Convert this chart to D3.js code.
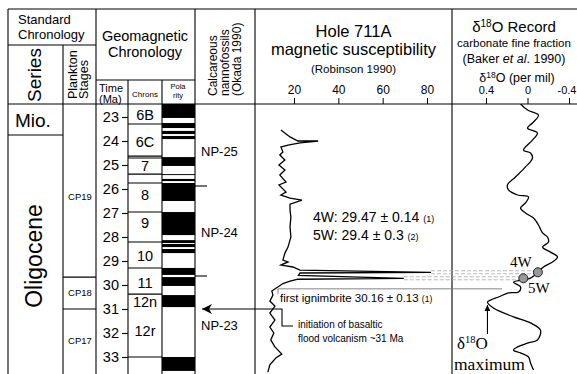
<!DOCTYPE html>
<html>
<head>
<meta charset="utf-8">
<script src="https://cdn.jsdelivr.net/npm/d3@7"></script>
<style>
  body { margin: 0; background: #fff; }
  svg { display: block; font-family: "Liberation Sans", Arial, Helvetica, sans-serif; }
</style>
</head>
<body>
<svg id="chart" width="577" height="374"></svg>
<script>
// --- data (ages in Ma) ---
const timeTicks = [23, 24, 25, 26, 27, 28, 29, 30, 31, 32, 33];

const chronNames = ["6B", "6C", "7", "8", "9", "10", "11", "12n", "12r"];
const chronLabelAges = [22.9, 24.05, 25.05, 26.25, 27.4, 28.8, 29.9, 30.7, 31.9];
const chronBounds = [23.29, 24.63, 24.71, 25.38, 25.75, 26.96, 28.21, 29.29, 30.38, 33.0];

// normal polarity (black) intervals
const polTop  = [22.4, 23.25, 23.58, 23.79, 24.67, 25.38, 25.58, 25.75, 26.96, 28.13, 28.29, 28.5, 29.29, 29.67, 30.42, 33.0];
const polBase = [23.04, 23.46, 23.71, 23.92, 25.04, 25.42, 25.67, 26.5, 27.92, 28.25, 28.42, 28.67, 29.58, 30.04, 30.92, 33.58];

const planktonNames = ["CP19", "CP18", "CP17"];
const planktonLabelAges = [26.3, 30.3, 32.3];
const planktonBounds = [29.67, 31.0];

const nannoNames = ["NP-25", "NP-24", "NP-23"];
const nannoLabelAges = [24.45, 27.8, 31.7];
const nannoBounds = [25.875, 29.625];

// Hole 711A magnetic susceptibility
const susTicks = [20, 40, 60, 80];
const susAge = [23.54, 23.71, 23.83, 24.0, 24.0, 24.08, 24.17, 24.25, 24.46, 24.58, 24.79, 25.0, 25.21, 25.42,
  25.71, 25.83, 26.13, 26.25, 26.38, 26.46, 26.63, 26.88, 27.17, 27.58, 28.0, 28.42, 28.67, 28.96, 29.04,
  29.17, 29.25, 29.38, 29.47, 29.5, 29.6, 29.72, 29.76, 29.84, 29.94, 30.08, 30.25, 30.42, 30.67, 30.88,
  31.17, 31.46, 31.75, 32.0, 32.29, 32.58, 32.88, 33.04, 33.33, 33.63];
const susValue = [14.1, 16.4, 18.2, 21.8, 30.9, 22.7, 17.3, 14.1, 15.0, 13.6, 15.9, 13.2, 15.9, 13.6,
  16.4, 13.2, 16.4, 14.1, 18.2, 23.6, 18.2, 18.2, 18.6, 18.2, 18.6, 17.3, 15.9, 15.0, 17.3,
  14.1, 19.5, 22.7, 81.8, 22.7, 22.0, 69.5, 21.8, 18.2, 15.0, 12.7, 10.0, 10.5, 9.1, 11.4,
  9.1, 11.4, 9.1, 10.9, 9.5, 11.4, 14.5, 11.8, 9.1, 8.2];

// d18O record
const d18Ticks = [0.4, 0, -0.4];
const d18TickLabels = ["0.4", "0", "-0.4"];
const d18Age = [22.46, 22.71, 22.92, 23.25, 23.46, 23.67, 23.96, 24.38, 24.5, 24.71, 25.08, 25.5, 25.83, 26.04,
  26.25, 26.33, 26.58, 26.79, 27.0, 27.21, 27.5, 27.83, 28.0, 28.21, 28.42, 28.63, 28.83, 29.04, 29.25,
  29.5, 29.71, 29.79, 29.88, 30.08, 30.29, 30.33, 30.5, 30.63, 30.71, 30.96, 31.33, 31.58, 31.88, 32.29,
  32.42, 32.58, 32.71, 32.83, 33.0, 33.25, 33.54];
const d18Value = [0.067, 0.0, -0.106, -0.048, 0.0, -0.096, -0.048, 0.039, -0.029, -0.048, 0.019, 0.116, 0.193, 0.183,
  0.096, -0.01, 0.019, 0.067, 0.019, -0.058, -0.106, -0.145, -0.193, -0.202, -0.145, -0.222, -0.289, -0.241, -0.154,
  -0.096, -0.029, 0.048, 0.135, 0.067, 0.087, 0.183, 0.28, 0.357, 0.386, 0.328, 0.135, -0.029, -0.125, -0.096,
  0.0, 0.096, 0.135, 0.067, -0.01, -0.029, -0.058];

// tie points 4W / 5W
const markerNames = ["4W", "5W"];
const markerAges = [29.47, 29.72];
const markerSus = [81.8, 69.5];
const markerD18 = [-0.1, 0.04];

const ignimbriteAge = 30.16;
const basaltAge = 31.0;
const d18MaxAge = 30.71, d18MaxValue = 0.386;

// --- layout ---
const svg = d3.select("#chart");
const W = 577, H = 374;
const topY = 9, headBottom = 104;
const colX = { left: 8, series: 63, plankton: 96, time: 128, chron: 162, pol: 195, nanno: 255, sus: 452, right: 577 };

const y = d3.scaleLinear().domain([23, 33]).range([117, 357]);
const xSus = d3.scaleLinear().domain([20, 80]).range([294, 427]);
const xD18 = d3.scaleLinear().domain([0.4, -0.4]).range([486, 569]);

svg.append("rect").attr("width", W).attr("height", H).attr("fill", "#fff");

const defs = svg.append("defs");
defs.append("clipPath").attr("id", "body")
  .append("rect").attr("x", 0).attr("y", headBottom).attr("width", W).attr("height", H - headBottom);
defs.append("marker").attr("id", "bigArrow")
  .attr("viewBox", "0 0 10 10").attr("refX", 10).attr("refY", 5)
  .attr("markerWidth", 14).attr("markerHeight", 10).attr("markerUnits", "userSpaceOnUse")
  .attr("orient", "auto-start-reverse")
  .append("path").attr("d", "M0,0 L10,5 L0,10 L3,5 Z").attr("fill", "#000");
defs.append("marker").attr("id", "smallArrow")
  .attr("viewBox", "0 0 10 10").attr("refX", 10).attr("refY", 5)
  .attr("markerWidth", 7).attr("markerHeight", 6).attr("markerUnits", "userSpaceOnUse")
  .attr("orient", "auto")
  .append("path").attr("d", "M0,0 L10,5 L0,10 Z").attr("fill", "#000");

const frame = svg.append("g").attr("stroke", "#000").attr("stroke-width", 1.1);
function hline(x1, x2, yy, g = frame) { g.append("line").attr("x1", x1).attr("x2", x2).attr("y1", yy).attr("y2", yy); }
function vline(xx, y1, y2, g = frame) { g.append("line").attr("x1", xx).attr("x2", xx).attr("y1", y1).attr("y2", y2); }

// frame and column dividers
hline(colX.left, colX.right, topY);
hline(colX.left, colX.right, headBottom);
hline(colX.left, colX.plankton, 45);
hline(colX.plankton, colX.pol, 80);
vline(colX.left, topY, H);
vline(colX.series, 45, H);
vline(colX.plankton, topY, H);
vline(colX.time, 80, H);
vline(colX.chron, 80, H);
vline(colX.pol, topY, H);
vline(colX.nanno, topY, H);
vline(colX.sus, topY, H);
hline(colX.left, colX.series, 135);

// plankton zone bounds
planktonBounds.forEach(a => hline(colX.series, colX.plankton, y(a)));
// chron box bounds
chronBounds.forEach(a => hline(colX.time, colX.chron, y(a)));
// nannofossil zone ticks
nannoBounds.forEach(a => hline(colX.pol, colX.pol + 12, y(a)));

// polarity column
svg.append("g").attr("clip-path", "url(#body)")
  .selectAll("rect").data(d3.zip(polTop, polBase)).join("rect")
  .attr("x", colX.chron).attr("width", colX.pol - colX.chron)
  .attr("y", d => y(d[0])).attr("height", d => y(d[1]) - y(d[0]))
  .attr("fill", "#000");

// time axis
const timeAxis = svg.append("g").attr("transform", `translate(${colX.time},0)`)
  .call(d3.axisLeft(y).tickValues(timeTicks).tickSize(6).tickPadding(3).tickFormat(d3.format("d")));
timeAxis.select(".domain").remove();
timeAxis.selectAll("line").attr("stroke-width", 1.1);
timeAxis.selectAll("text").attr("font-size", 14.5).attr("font-family", null);

// chron labels
svg.append("g").selectAll("text").data(d3.zip(chronNames, chronLabelAges)).join("text")
  .attr("x", (colX.time + colX.chron) / 2).attr("y", d => y(d[1]))
  .attr("dy", "0.36em").attr("text-anchor", "middle").attr("font-size", 14.5)
  .text(d => d[0]);

// plankton labels
svg.append("g").selectAll("text").data(d3.zip(planktonNames, planktonLabelAges)).join("text")
  .attr("x", 80).attr("y", d => y(d[1])).attr("dy", "0.36em")
  .attr("text-anchor", "middle").attr("font-size", 9.5).text(d => d[0]);

// nannofossil labels
svg.append("g").selectAll("text").data(d3.zip(nannoNames, nannoLabelAges)).join("text")
  .attr("x", 201).attr("y", d => y(d[1])).attr("dy", "0.36em")
  .attr("font-size", 13).text(d => d[0]);

// series
svg.append("text").attr("x", 15).attr("y", 127).attr("font-size", 19).text("Mio.");
svg.append("text").attr("transform", "translate(42,256) rotate(-90)")
  .attr("text-anchor", "middle").attr("font-size", 23).text("Oligocene");

// header texts
function txt(x, yy, s, size, anchor = "start") {
  return svg.append("text").attr("x", x).attr("y", yy).attr("font-size", size).attr("text-anchor", anchor).text(s);
}
txt(18, 24, "Standard", 13);
txt(18, 38.5, "Chronology", 13);
svg.append("text").attr("transform", "translate(41,75) rotate(-90)")
  .attr("text-anchor", "middle").attr("font-size", 19).text("Series");
svg.append("text").attr("transform", "translate(77,99) rotate(-90)").attr("font-size", 12.5).text("Plankton");
svg.append("text").attr("transform", "translate(88,99) rotate(-90)").attr("font-size", 12.5).text("Stages");
txt(145, 41, "Geomagnetic", 14.5, "middle");
txt(145, 57, "Chronology", 14.5, "middle");
txt(99, 92, "Time", 11);
txt(99, 103, "(Ma)", 11);
txt(145, 97, "Chrons", 8, "middle");
txt(178, 89, "Pola", 7.5, "middle");
txt(178, 98, "rity", 7.5, "middle");
svg.append("text").attr("transform", "translate(217,96) rotate(-90)").attr("font-size", 12).text("Calcareous");
svg.append("text").attr("transform", "translate(229,96) rotate(-90)").attr("font-size", 12).text("nannofossils");
svg.append("text").attr("transform", "translate(241,96) rotate(-90)").attr("font-size", 12).text("(Okada 1990)");

const susMid = (colX.nanno + colX.sus) / 2;
txt(susMid, 37, "Hole 711A", 16.5, "middle");
txt(susMid, 55, "magnetic susceptibility", 16.5, "middle");
txt(susMid, 73, "(Robinson 1990)", 11.5, "middle");

const d18Mid = 514;
const t1 = txt(d18Mid, 32, "", 15, "middle");
t1.append("tspan").text("δ");
t1.append("tspan").attr("font-size", 10).attr("dy", -5).text("18");
t1.append("tspan").attr("dy", 5).text("O Record");
txt(d18Mid, 47, "carbonate fine fraction", 11.5, "middle");
const t2 = txt(d18Mid, 63, "", 12.5, "middle");
t2.append("tspan").text("(Baker ");
t2.append("tspan").attr("font-style", "italic").text("et al");
t2.append("tspan").text(". 1990)");
const t3 = txt(d18Mid + 3, 82, "", 12.5, "middle");
t3.append("tspan").text("δ");
t3.append("tspan").attr("font-size", 8.5).attr("dy", -4).text("18");
t3.append("tspan").attr("dy", 4).text("O (per mil)");

// top axes
const susAxis = svg.append("g").attr("transform", `translate(0,${headBottom})`)
  .call(d3.axisTop(xSus).tickValues(susTicks).tickSize(6).tickPadding(4));
susAxis.select(".domain").remove();
susAxis.selectAll("text").attr("font-size", 12).attr("font-family", null);

const d18Axis = svg.append("g").attr("transform", `translate(0,${headBottom})`)
  .call(d3.axisTop(xD18).tickValues(d18Ticks).tickSize(6).tickPadding(4).tickFormat((d, i) => d18TickLabels[i]));
d18Axis.select(".domain").remove();
d18Axis.selectAll("text").attr("font-size", 11).attr("font-family", null);
// keep the last label inside the window
d18Axis.selectAll("text").filter(d => d === -0.4).attr("text-anchor", "end").attr("x", 7);

// connector lines from susceptibility spikes to d18O tie points
const conn = svg.append("g").attr("stroke", "#aaa").attr("stroke-width", 0.8).attr("stroke-dasharray", "4,2");
markerAges.forEach((a, i) => {
  [-1.5, 1.5].forEach(off => {
    conn.append("line").attr("x1", xSus(markerSus[i])).attr("x2", xD18(markerD18[i]))
      .attr("y1", y(a) + off).attr("y2", y(a) + off);
  });
});

// first ignimbrite line
const ign = svg.append("g").attr("stroke", "#777").attr("stroke-width", 0.9);
hline(278, 502, y(ignimbriteAge), ign);
vline(278, y(ignimbriteAge), y(ignimbriteAge) + 5, ign);

// curves
svg.append("path")
  .datum(d3.zip(susAge, susValue))
  .attr("fill", "none").attr("stroke", "#000").attr("stroke-width", 1.3).attr("stroke-linejoin", "miter")
  .attr("d", d3.line().x(d => xSus(d[1])).y(d => y(d[0])));

svg.append("path")
  .datum(d3.zip(d18Age, d18Value))
  .attr("clip-path", "url(#body)")
  .attr("fill", "none").attr("stroke", "#000").attr("stroke-width", 1.3)
  .attr("d", d3.line().curve(d3.curveCatmullRom.alpha(0.5)).x(d => xD18(d[1])).y(d => y(d[0])));

// tie point circles
svg.append("g").selectAll("circle").data(d3.zip(markerAges, markerD18)).join("circle")
  .attr("cx", d => xD18(d[1])).attr("cy", d => y(d[0])).attr("r", 4.5)
  .attr("fill", "#999").attr("stroke", "#222").attr("stroke-width", 1);

const serif = '"Liberation Serif", "Times New Roman", serif';
svg.append("text").attr("x", 510).attr("y", 267).attr("font-family", serif).attr("font-size", 15).text(markerNames[0]);
svg.append("text").attr("x", 528).attr("y", 293).attr("font-family", serif).attr("font-size", 15).text(markerNames[1]);

// annotation texts
const a1 = svg.append("text").attr("x", 313).attr("y", 222).attr("font-size", 14);
a1.append("tspan").text("4W: 29.47 ± 0.14 ");
a1.append("tspan").attr("font-size", 9).text("(1)");
const a2 = svg.append("text").attr("x", 313).attr("y", 240).attr("font-size", 14);
a2.append("tspan").text("5W: 29.4 ± 0.3 ");
a2.append("tspan").attr("font-size", 9).text("(2)");
const a3 = svg.append("text").attr("x", 280).attr("y", 302).attr("font-size", 11.5);
a3.append("tspan").text("first ignimbrite 30.16 ± 0.13 ");
a3.append("tspan").attr("font-size", 8.5).text("(1)");

// basaltic flood volcanism arrow
svg.append("path")
  .attr("d", `M293,${y(basaltAge) + 17} H282 V${y(basaltAge)} H202`)
  .attr("fill", "none").attr("stroke", "#000").attr("stroke-width", 1.1)
  .attr("marker-end", "url(#bigArrow)");
txt(298, 328, "initiation of basaltic", 10);
txt(298, 342, "flood volcanism ~31 Ma", 10);

// d18O maximum arrow
svg.append("line")
  .attr("x1", xD18(d18MaxValue)).attr("x2", xD18(d18MaxValue))
  .attr("y1", 334).attr("y2", y(d18MaxAge) + 3)
  .attr("stroke", "#000").attr("stroke-width", 1.1).attr("marker-end", "url(#smallArrow)");
const m1 = svg.append("text").attr("x", 457).attr("y", 349).attr("font-family", serif).attr("font-size", 17);
m1.append("tspan").text("δ");
m1.append("tspan").attr("font-size", 10.5).attr("dy", -6).text("18");
m1.append("tspan").attr("dy", 6).text("O");
svg.append("text").attr("x", 454).attr("y", 369.5).attr("font-family", serif).attr("font-size", 17.5).text("maximum");
</script>
</body>
</html>
